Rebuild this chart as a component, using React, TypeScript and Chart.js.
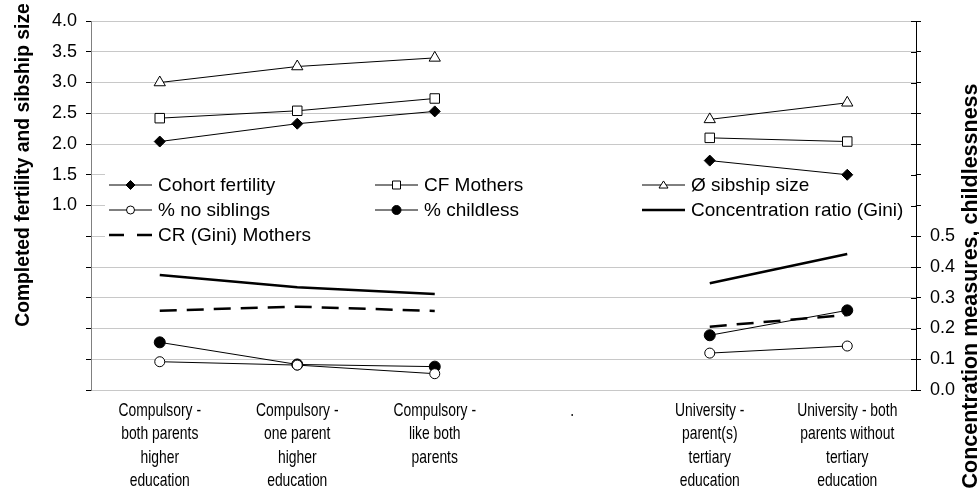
import React, { useEffect, useRef } from 'react';
import { Chart, registerables } from 'chart.js';

Chart.register(...registerables);

const categories: string[][] = [
  ['Compulsory -', 'both parents', 'higher', 'education'],
  ['Compulsory -', 'one parent', 'higher', 'education'],
  ['Compulsory -', 'like both', 'parents'],
  ['.'],
  ['University -', 'parent(s)', 'tertiary', 'education'],
  ['University - both', 'parents without', 'tertiary', 'education'],
];

const cohortFertility = [2.04, 2.33, 2.53, null, 1.73, 1.5];
const cfMothers = [2.42, 2.54, 2.74, null, 2.1, 2.04];
const sibshipSize = [3.0, 3.26, 3.4, null, 2.4, 2.67];
const noSiblings = [0.092, 0.081, 0.053, null, 0.12, 0.143];
const childless = [0.155, 0.083, 0.076, null, 0.178, 0.259];
const giniRatio = [0.374, 0.334, 0.312, null, 0.347, 0.442];
const giniMothers = [0.258, 0.271, 0.257, null, 0.206, 0.244];

const seriesNames = [
  'Cohort fertility',
  'CF Mothers',
  'Ø sibship size',
  '% no siblings',
  '% childless',
  'Concentration ratio (Gini)',
  'CR (Gini) Mothers',
];

const leftTitle = 'Completed fertility and sibship size';
const rightTitle = 'Concentration measures, childlessness';

const FONT = '"Liberation Sans", Arial, sans-serif';

type Marker = { shape: string; fill: string; r: number; lr: number };
const markers: Marker[] = [
  { shape: 'diamond', fill: '#000', r: 5.5, lr: 4.5 },
  { shape: 'square', fill: '#fff', r: 5, lr: 4 },
  { shape: 'triangle', fill: '#fff', r: 6.5, lr: 4.5 },
  { shape: 'circle', fill: '#fff', r: 5, lr: 4 },
  { shape: 'circle', fill: '#000', r: 5.5, lr: 4.5 },
  { shape: 'none', fill: '#000', r: 0, lr: 0 },
  { shape: 'none', fill: '#000', r: 0, lr: 0 },
];

function drawMarker(ctx: CanvasRenderingContext2D, shape: string, x: number, y: number, r: number, fill: string) {
  if (shape === 'none') return;
  ctx.save();
  ctx.setLineDash([]);
  ctx.lineWidth = 1;
  ctx.strokeStyle = '#000';
  ctx.fillStyle = fill;
  ctx.beginPath();
  if (shape === 'diamond') {
    ctx.moveTo(x, y - r);
    ctx.lineTo(x + r, y);
    ctx.lineTo(x, y + r);
    ctx.lineTo(x - r, y);
    ctx.closePath();
  } else if (shape === 'square') {
    ctx.rect(x - r, y - r, 2 * r, 2 * r);
  } else if (shape === 'triangle') {
    const h = r * 0.9;
    ctx.moveTo(x, y - h);
    ctx.lineTo(x + r, y + h * 0.75);
    ctx.lineTo(x - r, y + h * 0.75);
    ctx.closePath();
  } else {
    ctx.arc(x, y, r, 0, Math.PI * 2);
  }
  ctx.fill();
  ctx.stroke();
  ctx.restore();
}

const legendLayout = [
  { col: 0, row: 0 },
  { col: 1, row: 0 },
  { col: 2, row: 0 },
  { col: 0, row: 1 },
  { col: 1, row: 1 },
  { col: 2, row: 1 },
  { col: 0, row: 2 },
];
const legendColX = [109, 375, 642];
const legendRowY = [185, 210, 235];

const customPlugin = {
  id: 'custom',
  beforeDatasetsDraw(chart: any) {
    const ctx: CanvasRenderingContext2D = chart.ctx;
    ctx.save();
    ctx.fillStyle = '#fff';
    ctx.fillRect(105, 172, chart.chartArea.right - 105 - 1, 73);
    ctx.font = `19px ${FONT}`;
    ctx.textBaseline = 'middle';
    ctx.textAlign = 'left';
    legendLayout.forEach((p, i) => {
      const ds = chart.data.datasets[i];
      const x0 = legendColX[p.col];
      const y = legendRowY[p.row];
      ctx.save();
      ctx.strokeStyle = '#000';
      ctx.lineWidth = ds.borderWidth;
      if (i === 6) ctx.setLineDash([15, 13]);
      ctx.beginPath();
      ctx.moveTo(x0, y);
      ctx.lineTo(x0 + 43, y);
      ctx.stroke();
      ctx.restore();
      const m = markers[i];
      drawMarker(ctx, m.shape, x0 + 21.5, y, m.lr, m.fill);
      ctx.fillStyle = '#000';
      ctx.fillText(seriesNames[i], x0 + 49, y + 1);
    });
    ctx.restore();
  },
  afterDraw(chart: any) {
    const ctx: CanvasRenderingContext2D = chart.ctx;
    const y2 = chart.scales.y2;
    const xs = chart.scales.x;
    const right = chart.chartArea.right;
    ctx.save();
    ctx.strokeStyle = '#000';
    ctx.lineWidth = 1;
    y2.ticks.forEach((t: any, i: number) => {
      const py = Math.round(y2.getPixelForTick(i)) + 0.5;
      ctx.beginPath();
      ctx.moveTo(right - 5, py);
      ctx.lineTo(right, py);
      ctx.stroke();
    });
    // category labels (narrow face)
    ctx.fillStyle = '#000';
    ctx.font = `18.5px ${FONT}`;
    ctx.textAlign = 'center';
    ctx.textBaseline = 'middle';
    const base = chart.chartArea.bottom + 21;
    categories.forEach((lines, i) => {
      const x = xs.getPixelForValue(i);
      lines.forEach((ln, j) => {
        ctx.save();
        ctx.translate(x, base + j * 23.4);
        ctx.scale(0.75, 1);
        ctx.fillText(ln, 0, 0);
        ctx.restore();
      });
    });
    ctx.textBaseline = 'alphabetic';
    ctx.save();
    ctx.font = `bold 19.3px ${FONT}`;
    ctx.translate(29, 165);
    ctx.rotate(-Math.PI / 2);
    ctx.fillText(leftTitle, 0, 0);
    ctx.restore();
    ctx.save();
    ctx.font = `bold 21.5px ${FONT}`;
    ctx.translate(977, 286);
    ctx.rotate(-Math.PI / 2);
    ctx.fillText(rightTitle, 0, 0);
    ctx.restore();
    ctx.restore();
  },
};

export default function App() {
  const ref = useRef<HTMLCanvasElement>(null);
  useEffect(() => {
    if (!ref.current) return;
    const mk = (i: number, data: (number | null)[], axis: string, width: number, dash: number[] = []) => {
      const m = markers[i];
      return {
        label: seriesNames[i],
        data,
        yAxisID: axis,
        borderColor: '#000',
        borderWidth: width,
        borderDash: dash,
        backgroundColor: m.fill,
        pointStyle: m.shape === 'diamond' ? 'rectRot' : m.shape === 'square' ? 'rect' : m.shape === 'triangle' ? 'triangle' : 'circle',
        pointRadius: m.shape === 'none' ? 0 : m.shape === 'square' ? 6.7 : m.r,
        pointBackgroundColor: m.fill,
        pointBorderColor: '#000',
        pointBorderWidth: 1,
        pointHoverRadius: m.shape === 'none' ? 0 : m.r,
        tension: 0,
        spanGaps: false,
        fill: false,
      };
    };
    const chart = new Chart(ref.current, {
      type: 'line',
      data: {
        labels: categories.map((c) => c.join(' ')),
        datasets: [
          mk(0, cohortFertility, 'y', 1),
          mk(1, cfMothers, 'y', 1),
          mk(2, sibshipSize, 'y', 1),
          mk(3, noSiblings, 'y2', 1),
          mk(4, childless, 'y2', 1),
          mk(5, giniRatio, 'y2', 2.5),
          mk(6, giniMothers, 'y2', 2.5, [17, 10]),
        ] as any,
      },
      options: {
        responsive: false,
        animation: false,
        layout: { padding: { top: 21, left: 0, right: 0, bottom: 0 } },
        plugins: { legend: { display: false }, tooltip: { enabled: false }, title: { display: false } },
        scales: {
          x: {
            type: 'category',
            offset: true,
            grid: { display: false },
            border: { display: false },
            ticks: { display: false },
            afterFit: (s: any) => { s.height = 107; },
          },
          y: {
            position: 'left',
            min: -2,
            max: 4,
            grid: { color: '#c8c8c8', tickColor: '#000', tickLength: 5, lineWidth: 1 },
            border: { display: true, color: '#808080', width: 1 },
            ticks: {
              stepSize: 0.5,
              color: '#000',
              padding: 9,
              font: { family: FONT, size: 18 },
              callback: (v: any) => (Number(v) >= 0.999 ? Number(v).toFixed(1) : ''),
            },
            afterFit: (s: any) => { s.width = 91; },
          },
          y2: {
            position: 'right',
            min: 0,
            max: 1.2,
            grid: { drawOnChartArea: false, tickColor: '#000', tickLength: 5 },
            border: { display: true, color: '#000', width: 1 },
            ticks: {
              stepSize: 0.1,
              color: '#000',
              padding: 9,
              font: { family: FONT, size: 18 },
              callback: (v: any) => (Number(v) <= 0.5001 ? Number(v).toFixed(1) : ''),
            },
            afterFit: (s: any) => { s.width = 63; },
          },
        },
      } as any,
      plugins: [customPlugin],
    });
    return () => chart.destroy();
  }, []);
  return (
    <div style={{ position: 'absolute', left: 0, top: 0, width: 979, height: 497, background: '#fff' }}>
      <canvas ref={ref} width={979} height={497} />
    </div>
  );
}
